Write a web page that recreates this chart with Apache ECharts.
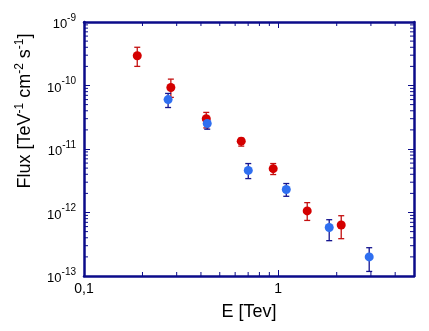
<!DOCTYPE html>
<html>
<head>
<meta charset="utf-8">
<script src="https://cdn.jsdelivr.net/npm/echarts@6/dist/echarts.min.js"></script>
<style>
  html, body { margin: 0; padding: 0; background: #fff; }
  #chart { width: 429px; height: 331px; }
</style>
</head>
<body>
<div id="chart"></div>
<script>
// red set
const redE = [0.188, 0.28, 0.426, 0.645, 0.942, 1.41, 2.11];
const redFlux = [2.94e-10, 9.3e-11, 3.0e-11, 1.33e-11, 4.9e-12, 1.06e-12, 6.35e-13];
const redLow = [2.0e-10, 6.5e-11, 2.15e-11, 1.11e-11, 3.96e-12, 7.5e-13, 3.87e-13];
const redHigh = [4.0e-10, 1.26e-10, 3.77e-11, 1.48e-11, 5.9e-12, 1.43e-12, 8.9e-13];

// blue set
const blueE = [0.271, 0.431, 0.701, 1.10, 1.83, 2.94];
const blueFlux = [6.0e-11, 2.52e-11, 4.6e-12, 2.3e-12, 5.8e-13, 2.0e-13];
const blueLow = [4.5e-11, 2.05e-11, 3.42e-12, 1.8e-12, 3.6e-13, 1.18e-13];
const blueHigh = [7.5e-11, 2.9e-11, 5.9e-12, 2.86e-12, 7.7e-13, 2.79e-13];

// minor tick values (log axes)
const xMinor = [0.2, 0.3, 0.4, 0.5, 0.6, 0.7, 0.8, 0.9, 2, 3, 4];
const yDecades = [1e-13, 1e-12, 1e-11, 1e-10];
const yMinor = [];
yDecades.forEach(d => { for (let k = 2; k <= 9; k++) yMinor.push(k * d); });

const axisColor = '#0b0b8a';
const font = 'Liberation Sans, Arial, sans-serif';

const pairs = (xs, ys) => xs.map((x, i) => [x, ys[i]]);
const errData = (xs, lo, hi) => xs.map((x, i) => [x, lo[i], hi[i]]);

// vertical error bar with caps
const errRender = (color) => (params, api) => {
    const lo = api.coord([api.value(0), api.value(1)]);
    const hi = api.coord([api.value(0), api.value(2)]);
    const w = 3;
    const style = { stroke: color, lineWidth: 1.3 };
    return {
        type: 'group',
        children: [
            { type: 'line', shape: { x1: lo[0], y1: lo[1], x2: hi[0], y2: hi[1] }, style },
            { type: 'line', shape: { x1: lo[0] - w, y1: lo[1], x2: lo[0] + w, y2: lo[1] }, style },
            { type: 'line', shape: { x1: hi[0] - w, y1: hi[1], x2: hi[0] + w, y2: hi[1] }, style }
        ]
    };
};

// minor ticks drawn on both sides of the frame
const xTickRender = (params, api) => {
    const cs = params.coordSys;
    const x = api.coord([api.value(0), 1e-11])[0];
    const style = { stroke: axisColor, lineWidth: 1 };
    return {
        type: 'group',
        children: [
            { type: 'line', shape: { x1: x, y1: cs.y + cs.height, x2: x, y2: cs.y + cs.height - 4 }, style },
            { type: 'line', shape: { x1: x, y1: cs.y, x2: x, y2: cs.y + 4 }, style }
        ]
    };
};
const yTickRender = (params, api) => {
    const cs = params.coordSys;
    const y = api.coord([1, api.value(1)])[1];
    const style = { stroke: axisColor, lineWidth: 1 };
    return {
        type: 'group',
        children: [
            { type: 'line', shape: { x1: cs.x, y1: y, x2: cs.x + 4, y2: y }, style },
            { type: 'line', shape: { x1: cs.x + cs.width, y1: y, x2: cs.x + cs.width - 4, y2: y }, style }
        ]
    };
};

const baseAxis = {
    type: 'log',
    logBase: 10,
    axisLine: { show: true, lineStyle: { color: axisColor, width: 2.5 } },
    axisTick: { show: true, inside: true, length: 6, lineStyle: { color: axisColor, width: 1 } },
    splitLine: { show: false },
    minorTick: { show: false }
};

const chart = echarts.init(document.getElementById('chart'));
chart.setOption({
    backgroundColor: '#fff',
    animation: false,
    grid: { left: 84, top: 22, right: 15, bottom: 55 },
    xAxis: [
        Object.assign({}, baseAxis, {
            min: 0.1, max: 5, position: 'bottom',
            name: 'E [Tev]', nameLocation: 'middle', nameGap: 27,
            nameTextStyle: { fontFamily: font, fontSize: 18, color: '#000' },
            axisLabel: {
                fontFamily: font, fontSize: 14, color: '#000', margin: 6, showMaxLabel: false,
                formatter: v => (v < 1 ? v.toFixed(1) : v.toFixed(0)).replace('.', ',')
            }
        }),
        Object.assign({}, baseAxis, { min: 0.1, max: 5, position: 'top', axisLabel: { show: false } })
    ],
    yAxis: [
        Object.assign({}, baseAxis, {
            min: 1e-13, max: 1e-9, position: 'left',
            name: 'Flux [TeV{s|-1} cm{s|-2} s{s|-1}]', nameLocation: 'middle', nameRotate: 90, nameGap: 48,
            nameTextStyle: {
                fontFamily: font, fontSize: 18, color: '#000', lineHeight: 22, padding: [0, 0, 0, 76],
                rich: { s: { fontFamily: font, fontSize: 12, color: '#000', verticalAlign: 'top', lineHeight: 22, padding: [0, 0, 8, 0] } }
            },
            axisLabel: {
                fontFamily: font, color: '#000', margin: 8,
                formatter: v => '{b|10}{s|' + Math.round(Math.log10(v)) + '}',
                rich: {
                    b: { fontFamily: font, fontSize: 13, color: '#000', lineHeight: 18, verticalAlign: 'bottom' },
                    s: { fontFamily: font, fontSize: 10, color: '#000', lineHeight: 18, verticalAlign: 'top' }
                }
            }
        }),
        Object.assign({}, baseAxis, { min: 1e-13, max: 1e-9, position: 'right', axisLabel: { show: false } })
    ],
    series: [
        { type: 'custom', renderItem: xTickRender, data: xMinor.map(v => [v, 1e-11]), silent: true, z: 1 },
        { type: 'custom', renderItem: yTickRender, data: yMinor.map(v => [1, v]), silent: true, z: 1 },
        { type: 'custom', renderItem: errRender('#c41010'), data: errData(redE, redLow, redHigh), z: 2 },
        { type: 'custom', renderItem: errRender('#14148f'), data: errData(blueE, blueLow, blueHigh), z: 2 },
        {
            type: 'scatter', data: pairs(redE, redFlux), symbol: 'circle', symbolSize: 9,
            itemStyle: { color: '#d40000', opacity: 1 }, z: 3
        },
        {
            type: 'scatter', data: pairs(blueE, blueFlux), symbol: 'circle', symbolSize: 9,
            itemStyle: { color: '#2f6ff0', opacity: 1 }, z: 3
        }
    ]
});
</script>
</body>
</html>
